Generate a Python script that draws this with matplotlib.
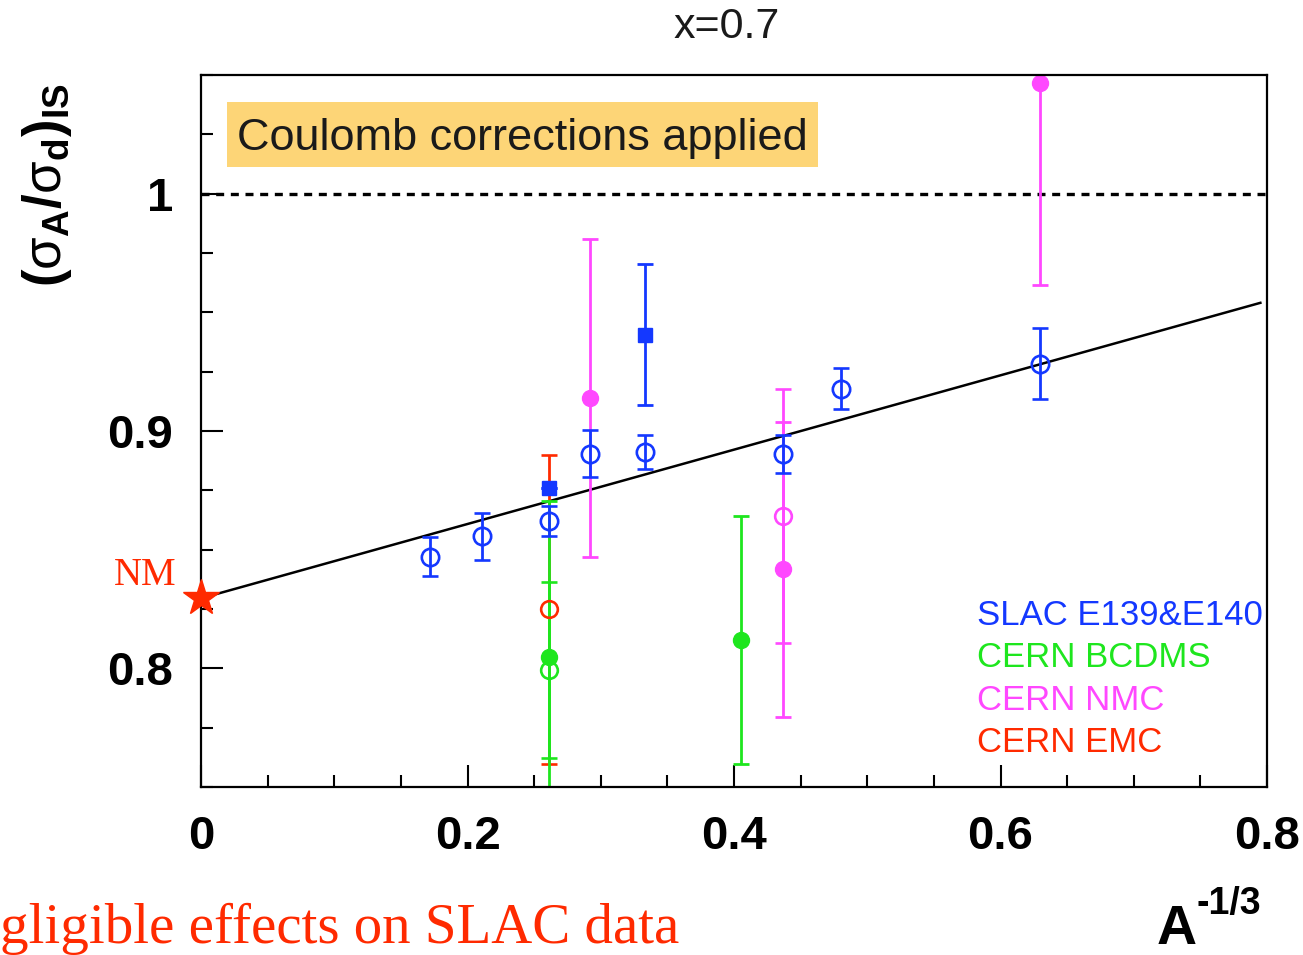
import matplotlib
matplotlib.use("Agg")
import matplotlib.pyplot as plt
from matplotlib.patches import Rectangle
from matplotlib.ticker import MultipleLocator

plt.rcParams['font.family'] = ['Liberation Sans', 'DejaVu Sans']
plt.rcParams['mathtext.fontset'] = 'custom'
plt.rcParams['mathtext.rm'] = 'Liberation Sans'
plt.rcParams['mathtext.bf'] = 'Liberation Sans:bold'
plt.rcParams['mathtext.it'] = 'Liberation Sans:italic'

# SLAC E139 & E140 (open circles and filled squares)
slac_x = [0.172, 0.2105, 0.2612, 0.2919, 0.3332, 0.4368, 0.4803, 0.6296]
slac_y = [0.847, 0.8556, 0.8619, 0.8905, 0.891, 0.8905, 0.9179, 0.9284]
slac_err = [0.0082, 0.0099, 0.0063, 0.0099, 0.0072, 0.008, 0.0088, 0.0149]
slac_sq_x = [0.2612, 0.3332]
slac_sq_y = [0.8758, 0.9406]
slac_sq_err = [0.0, 0.0297]

# CERN BCDMS
bcdms_x = [0.2612, 0.4053]
bcdms_y = [0.8046, 0.8118]
bcdms_err = [0.0657, 0.0522]
bcdms_open_x = [0.2612]
bcdms_open_y = [0.7992]
bcdms_open_err = [0.037]

# CERN NMC
nmc_x = [0.2919, 0.4368, 0.6296]
nmc_y = [0.9141, 0.8417, 1.0467]
nmc_err = [0.067, 0.062, 0.085]
nmc_open_x = [0.4368]
nmc_open_y = [0.864]
nmc_open_err = [0.0535]

# CERN EMC
emc_x = [0.2612]
emc_y = [0.8248]
emc_err = [0.0652]

# linear fit in A^-1/3 and nuclear matter point
fit_x = [0.0, 0.795]
fit_y = [0.8295, 0.954]
nm_x = 0.0
nm_y = 0.8295

legend_names = ['SLAC E139&E140', 'CERN BCDMS', 'CERN NMC', 'CERN EMC']
xticks = [0.0, 0.2, 0.4, 0.6, 0.8]
xtick_labels = ['0', '0.2', '0.4', '0.6', '0.8']
yticks = [0.8, 0.9, 1.0]
ytick_labels = ['0.8', '0.9', '1']

blue = '#1438ff'
green = '#1ee61e'
magenta = '#ff48ff'
red = '#ff2a00'

fig = plt.figure(figsize=(13.03, 9.55), dpi=100)
ax = fig.add_axes([0.1543, 0.1759, 0.8181, 0.7456])
ax.set_xlim(0, 0.8)
ax.set_ylim(0.75, 1.05)

eb = dict(linestyle='none', elinewidth=2.0, capsize=6, capthick=2.0)

ax.errorbar(emc_x, emc_y, yerr=emc_err, color=red, marker='o', ms=12,
            mfc='none', mec=red, mew=1.9, **eb)
ax.errorbar(bcdms_x, bcdms_y, yerr=bcdms_err, color=green, marker='o', ms=11.5,
            mfc=green, mec=green, **eb)
ax.errorbar(bcdms_open_x, bcdms_open_y, yerr=bcdms_open_err, color=green, marker='o',
            ms=12, mfc='none', mec=green, mew=1.9, **eb)
ax.errorbar(nmc_x, nmc_y, yerr=nmc_err, color=magenta, marker='o', ms=11.5,
            mfc=magenta, mec=magenta, **eb)
ax.errorbar(nmc_open_x, nmc_open_y, yerr=nmc_open_err, color=magenta, marker='o',
            ms=12, mfc='none', mec=magenta, mew=1.9, **eb)
ax.errorbar(slac_sq_x, slac_sq_y, yerr=slac_sq_err, color=blue, marker='s', ms=10,
            mfc=blue, mec=blue, **eb)
ax.errorbar(slac_x, slac_y, yerr=slac_err, color=blue, marker='o', ms=12.5,
            mfc='none', mec=blue, mew=1.9, **eb)

ax.plot(fit_x, fit_y, color='black', lw=1.8, zorder=1)
ax.axhline(1.0, color='black', lw=2.4, dashes=(2.4, 2.0), zorder=1)

ax.plot(nm_x, nm_y, marker='*', ms=27, color=red, mec=red, clip_on=False, zorder=5)
ax.text(-0.0188, 0.835, 'NM', color=red, fontsize=28, family='Liberation Serif',
        ha='right', va='baseline', clip_on=False)

# shaded note box
ax.add_patch(Rectangle((0.0244, 0.8708), 0.5544, 0.0913, transform=ax.transAxes,
                       facecolor='#fdd577', edgecolor='none', zorder=0))
ax.text(0.0338, 0.8947, 'Coulomb corrections applied', transform=ax.transAxes,
        fontsize=32.5, color='#1a1a1a', va='baseline', ha='left')

# colour-coded dataset names
for i, (name, c) in enumerate(zip(legend_names, [blue, green, magenta, red])):
    ax.text(0.728, 0.2275 - i * 0.0595, name, transform=ax.transAxes, color=c,
            fontsize=25, va='baseline', ha='left')

for s in ax.spines.values():
    s.set_linewidth(1.6)

ax.set_xticks(xticks, labels=xtick_labels)
ax.set_yticks(yticks, labels=ytick_labels)
ax.xaxis.set_minor_locator(MultipleLocator(0.05))
ax.yaxis.set_minor_locator(MultipleLocator(0.025))
ax.tick_params(which='major', direction='in', length=16, width=1.5, labelsize=34,
               pad=20, top=False, right=False)
ax.tick_params(which='minor', direction='in', length=8.5, width=1.5,
               top=False, right=False)
for lab in ax.get_xticklabels() + ax.get_yticklabels():
    lab.set_fontweight('bold')

fig.text(0.558, 0.972, 'x=0.7', fontsize=31, ha='center', va='center', color='#1a1a1a')
fig.text(0.036, 0.806,
         r'$\mathbf{(}\mathrm{\sigma}_{\mathbf{A}}\mathbf{/}\mathrm{\sigma}_{\mathbf{d}}\mathbf{)}_{\mathbf{IS}}$',
         fontsize=38, rotation=90, ha='center', va='center')
fig.text(0.9185, 0.012, 'A', fontsize=40, fontweight='bold', ha='right', va='baseline')
fig.text(0.9185, 0.043, '-1/3', fontsize=27, fontweight='bold', ha='left', va='baseline')
fig.text(0.0, 0.0126, 'gligible effects on SLAC data', fontsize=41, color=red,
         family='Liberation Serif', ha='left', va='baseline')

fig.savefig('out.png', dpi=100)
